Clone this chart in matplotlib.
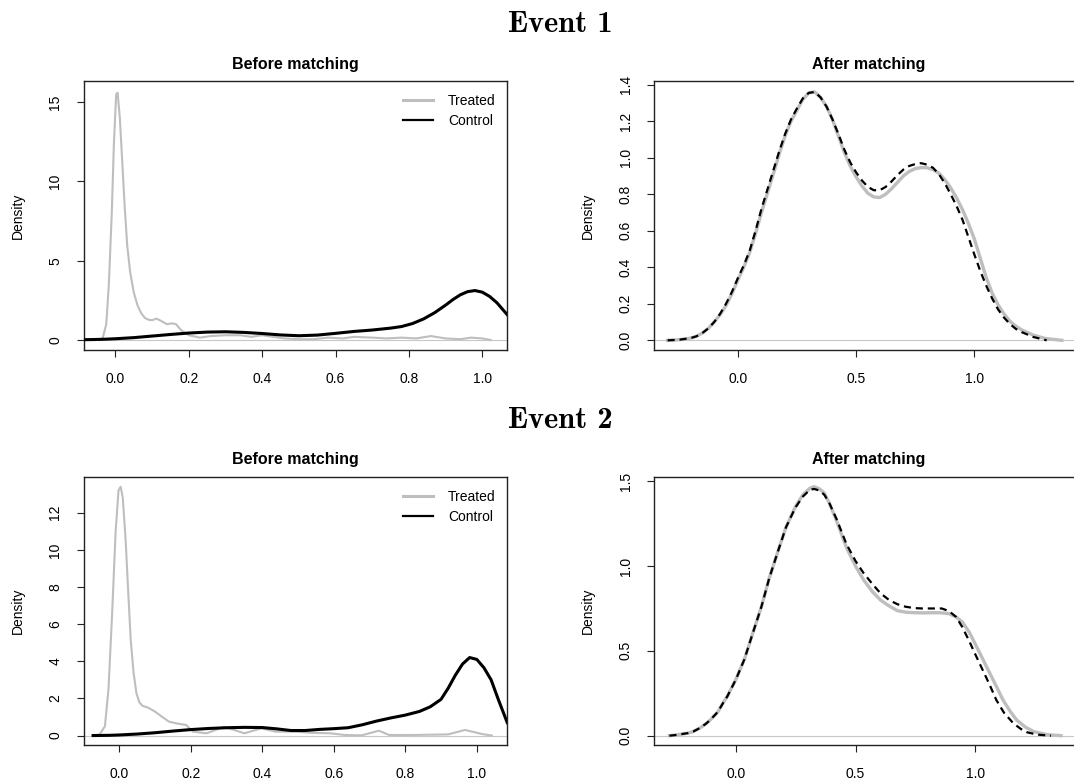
"""Densidades do escore de propensão antes e depois do pareamento."""

from pathlib import Path

import matplotlib

matplotlib.use("Agg")
import matplotlib.pyplot as plt
from matplotlib.font_manager import FontProperties
from matplotlib.lines import Line2D

plt.rcParams["font.family"] = ["Liberation Sans", "DejaVu Sans"]

GRAY = "#bebebe"

# ---- Event 1, before matching
e1_before_treated_x = [-0.043, -0.035, -0.025, -0.018, -0.010, -0.004, 0.002, 0.006, 0.012,
                       0.018, 0.025, 0.032, 0.040, 0.050, 0.060, 0.070, 0.080, 0.090,
                       0.100, 0.112, 0.125, 0.140, 0.155, 0.165, 0.180, 0.200, 0.230,
                       0.260, 0.300, 0.340, 0.370, 0.400, 0.430, 0.460, 0.500, 0.540,
                       0.580, 0.620, 0.650, 0.700, 0.740, 0.780, 0.820, 0.860, 0.900,
                       0.940, 0.970, 1.000, 1.023]
e1_before_treated_y = [0.0, 0.1, 1.0, 3.5, 8.0, 12.5, 15.5, 15.6, 14.0,
                       11.5, 8.5, 6.0, 4.3, 3.0, 2.2, 1.7, 1.4, 1.28,
                       1.25, 1.35, 1.2, 1.0, 1.05, 1.0, 0.6, 0.3, 0.15,
                       0.25, 0.3, 0.3, 0.2, 0.3, 0.2, 0.1, 0.05, 0.05,
                       0.15, 0.1, 0.2, 0.15, 0.1, 0.15, 0.1, 0.25, 0.1,
                       0.05, 0.15, 0.1, 0.0]
e1_before_control_x = [-0.086, -0.06, -0.03, 0.0, 0.05, 0.10, 0.15, 0.20, 0.25, 0.30,
                       0.35, 0.40, 0.45, 0.50, 0.55, 0.60, 0.65, 0.70, 0.75, 0.78,
                       0.81, 0.84, 0.87, 0.90, 0.92, 0.94, 0.96, 0.98, 1.00, 1.02,
                       1.04, 1.068]
e1_before_control_y = [0.02, 0.03, 0.05, 0.08, 0.15, 0.25, 0.35, 0.44, 0.50, 0.52,
                       0.48, 0.41, 0.32, 0.27, 0.31, 0.42, 0.54, 0.63, 0.75, 0.85,
                       1.04, 1.33, 1.72, 2.2, 2.55, 2.85, 3.05, 3.12, 3.02, 2.75,
                       2.35, 1.6]

# ---- Event 1, after matching
e1_after_treated_x = [-0.297, -0.25, -0.2, -0.175, -0.15, -0.125, -0.1, -0.075, -0.05,
                      -0.025, 0.0, 0.025, 0.05, 0.075, 0.1, 0.125, 0.15, 0.175, 0.2,
                      0.225, 0.25, 0.275, 0.3, 0.325, 0.35, 0.375, 0.4, 0.425, 0.45,
                      0.475, 0.5, 0.525, 0.55, 0.575, 0.6, 0.625, 0.65, 0.675, 0.7,
                      0.725, 0.75, 0.775, 0.8, 0.825, 0.85, 0.875, 0.9, 0.925, 0.95,
                      0.975, 1.0, 1.025, 1.05, 1.075, 1.1, 1.125, 1.15, 1.175, 1.2,
                      1.25, 1.3, 1.37]
e1_after_treated_y = [0.0, 0.003, 0.012, 0.022, 0.04, 0.065, 0.1, 0.14, 0.19,
                      0.255, 0.33, 0.40, 0.48, 0.585, 0.70, 0.805, 0.91, 1.02, 1.12,
                      1.20, 1.26, 1.32, 1.355, 1.36, 1.33, 1.28, 1.21, 1.12, 1.03,
                      0.955, 0.895, 0.845, 0.805, 0.785, 0.782, 0.80, 0.83, 0.865, 0.90,
                      0.925, 0.94, 0.946, 0.945, 0.935, 0.915, 0.88, 0.835, 0.78, 0.715,
                      0.64, 0.555, 0.45, 0.345, 0.26, 0.195, 0.145, 0.105, 0.078, 0.057,
                      0.028, 0.01, 0.0]
e1_after_control_x = [-0.297, -0.25, -0.2, -0.175, -0.15, -0.125, -0.1, -0.075, -0.05,
                      -0.025, 0.0, 0.025, 0.05, 0.075, 0.1, 0.125, 0.15, 0.175, 0.2,
                      0.225, 0.25, 0.275, 0.3, 0.325, 0.35, 0.375, 0.4, 0.425, 0.45,
                      0.475, 0.5, 0.525, 0.55, 0.575, 0.6, 0.625, 0.65, 0.675, 0.7,
                      0.725, 0.75, 0.775, 0.8, 0.825, 0.85, 0.875, 0.9, 0.925, 0.95,
                      0.975, 1.0, 1.025, 1.05, 1.075, 1.1, 1.125, 1.15, 1.175, 1.2,
                      1.25, 1.306]
e1_after_control_y = [0.0, 0.003, 0.012, 0.022, 0.04, 0.065, 0.1, 0.145, 0.2,
                      0.265, 0.34, 0.41, 0.49, 0.60, 0.72, 0.825, 0.93, 1.035, 1.13,
                      1.21, 1.27, 1.325, 1.355, 1.36, 1.33, 1.28, 1.21, 1.13, 1.045,
                      0.975, 0.92, 0.875, 0.84, 0.822, 0.822, 0.84, 0.87, 0.905, 0.935,
                      0.955, 0.965, 0.97, 0.962, 0.945, 0.91, 0.86, 0.80, 0.735, 0.66,
                      0.565, 0.47, 0.38, 0.30, 0.23, 0.17, 0.125, 0.09, 0.063, 0.045,
                      0.018, 0.0]

# ---- Event 2, before matching
e2_before_treated_x = [-0.073, -0.055, -0.040, -0.030, -0.020, -0.010, -0.002, 0.004, 0.010,
                       0.018, 0.025, 0.032, 0.040, 0.048, 0.056, 0.065, 0.081, 0.100,
                       0.119, 0.139, 0.158, 0.187, 0.206, 0.244, 0.293, 0.321, 0.350,
                       0.398, 0.437, 0.495, 0.533, 0.591, 0.630, 0.678, 0.726, 0.755,
                       0.822, 0.919, 0.967, 1.015, 1.042]
e2_before_treated_y = [0.0, 0.05, 0.5, 2.5, 6.5, 11.0, 13.2, 13.4, 12.8,
                       10.5, 7.8, 5.2, 3.4, 2.3, 1.8, 1.6, 1.5, 1.29,
                       1.02, 0.75, 0.66, 0.57, 0.21, 0.12, 0.47, 0.30, 0.12,
                       0.39, 0.21, 0.21, 0.15, 0.12, 0.03, 0.01, 0.26, 0.03,
                       0.03, 0.06, 0.3, 0.08, 0.0]
e2_before_control_x = [-0.073, -0.03, 0.0, 0.05, 0.1, 0.15, 0.2, 0.25, 0.3, 0.35,
                       0.4, 0.44, 0.48, 0.52, 0.56, 0.6, 0.64, 0.68, 0.72, 0.76,
                       0.8, 0.84, 0.87, 0.9, 0.92, 0.94, 0.96, 0.98, 1.0, 1.02,
                       1.04, 1.06, 1.085]
e2_before_control_y = [0.0, 0.01, 0.03, 0.08, 0.15, 0.24, 0.32, 0.38, 0.42, 0.44,
                       0.43, 0.36, 0.27, 0.27, 0.33, 0.37, 0.42, 0.58, 0.78, 0.95,
                       1.1, 1.3, 1.55, 1.95, 2.55, 3.25, 3.85, 4.2, 4.1, 3.65,
                       3.0, 1.95, 0.7]

# ---- Event 2, after matching
e2_after_treated_x = [-0.277, -0.25, -0.2, -0.178, -0.15, -0.125, -0.107, -0.075, -0.05,
                      -0.036, 0.0, 0.036, 0.07, 0.107, 0.14, 0.178, 0.21, 0.249, 0.28,
                      0.31, 0.327, 0.35, 0.37, 0.391, 0.42, 0.462, 0.5, 0.533, 0.57,
                      0.604, 0.64, 0.675, 0.71, 0.747, 0.78, 0.818, 0.85, 0.889, 0.92,
                      0.946, 0.975, 1.0, 1.03, 1.06, 1.09, 1.116, 1.145, 1.173, 1.21,
                      1.244, 1.3, 1.358]
e2_after_treated_y = [0.0, 0.004, 0.015, 0.024, 0.045, 0.07, 0.092, 0.14, 0.2,
                      0.23, 0.33, 0.45, 0.6, 0.76, 0.93, 1.095, 1.23, 1.35, 1.42,
                      1.46, 1.468, 1.455, 1.43, 1.37, 1.27, 1.11, 1.0, 0.92, 0.85,
                      0.8, 0.765, 0.737, 0.728, 0.725, 0.724, 0.725, 0.725, 0.72, 0.7,
                      0.67, 0.61, 0.54, 0.455, 0.37, 0.285, 0.21, 0.145, 0.092, 0.05,
                      0.024, 0.006, 0.0]
e2_after_control_x = [-0.277, -0.25, -0.2, -0.178, -0.15, -0.125, -0.107, -0.075, -0.05,
                      -0.036, 0.0, 0.036, 0.07, 0.107, 0.14, 0.178, 0.21, 0.249, 0.28,
                      0.31, 0.327, 0.35, 0.37, 0.391, 0.42, 0.462, 0.5, 0.533, 0.57,
                      0.604, 0.64, 0.675, 0.71, 0.747, 0.78, 0.82, 0.86, 0.89, 0.92,
                      0.946, 0.974, 1.0, 1.03, 1.06, 1.088, 1.12, 1.159, 1.19, 1.216,
                      1.26, 1.316]
e2_after_control_y = [0.0, 0.004, 0.015, 0.024, 0.045, 0.07, 0.092, 0.14, 0.2,
                      0.23, 0.33, 0.45, 0.6, 0.76, 0.93, 1.095, 1.23, 1.345, 1.41,
                      1.45, 1.455, 1.445, 1.42, 1.37, 1.28, 1.13, 1.03, 0.96, 0.895,
                      0.84, 0.8, 0.775, 0.76, 0.752, 0.75, 0.75, 0.75, 0.735, 0.7,
                      0.64, 0.56, 0.48, 0.39, 0.3, 0.21, 0.135, 0.073, 0.04, 0.02,
                      0.006, 0.0]

before_xticks = [0.0, 0.2, 0.4, 0.6, 0.8, 1.0]
after_xticks = [0.0, 0.5, 1.0]
e1_before_yticks = [0, 5, 10, 15]
e1_after_yticks = [0.0, 0.2, 0.4, 0.6, 0.8, 1.0, 1.2, 1.4]
e2_before_yticks = [0, 2, 4, 6, 8, 10, 12]
e2_after_yticks = [0.0, 0.5, 1.0, 1.5]
legend_labels = ["Treated", "Control"]
event_titles = ["Event 1", "Event 2"]

W, H = 1074, 783
CMB = Path(matplotlib.get_data_path()) / "fonts" / "ttf" / "cmb10.ttf"


def _axes_px(fig, x0, y0, x1, y1):
    """Cria eixos a partir de uma caixa em pixels (origem no topo)."""
    return fig.add_axes([x0 / W, 1 - y1 / H, (x1 - x0) / W, (y1 - y0) / H])


def _style(ax, xlim, ylim, xticks, yticks, fmt_x, fmt_y, title, width_px):
    ax.set_xlim(*xlim)
    ax.set_ylim(*ylim)
    ax.axhline(0, color="#c8c8c8", lw=0.8, zorder=1)
    ax.set_xticks(xticks)
    ax.set_xticklabels([fmt_x.format(v) for v in xticks])
    ax.set_yticks(yticks)
    ax.set_yticklabels([fmt_y.format(v) for v in yticks], rotation=90, va="center")
    ax.tick_params(axis="both", direction="out", length=5, width=0.8,
                   color="#222222", labelsize=10)
    ax.tick_params(axis="x", pad=11)
    ax.tick_params(axis="y", pad=10.5)
    for sp in ax.spines.values():
        sp.set_color("#222222")
        sp.set_linewidth(1.0)
    ax.set_title(title, fontsize=11.5, fontweight="bold", pad=9)
    ax.set_ylabel("Density", fontsize=10)
    ax.yaxis.set_label_coords(-59 / width_px, 0.5)


def _legend(ax):
    handles = [Line2D([], [], color=GRAY, lw=2.2),
               Line2D([], [], color="black", lw=1.6)]
    ax.legend(handles, legend_labels, loc="upper left",
              bbox_to_anchor=(0.753, 0.951), frameon=False, fontsize=10,
              borderpad=0, borderaxespad=0, handlelength=2.15,
              handletextpad=1.1, labelspacing=0.42)


fig = plt.figure(figsize=(W / 100, H / 100), dpi=100)

# Event 1
ax = _axes_px(fig, 84, 81, 507.2, 350)
ax.plot(e1_before_treated_x, e1_before_treated_y, color=GRAY, lw=1.5, zorder=2)
ax.plot(e1_before_control_x, e1_before_control_y, color="black", lw=2.2, zorder=3)
_style(ax, (-0.0857, 1.068), (-0.63, 16.34), before_xticks, e1_before_yticks,
       "{:.1f}", "{:d}", "Before matching", 423.2)
_legend(ax)

ax = _axes_px(fig, 654.1, 81, 1090, 350)
ax.plot(e1_after_treated_x, e1_after_treated_y, color=GRAY, lw=2.4, zorder=2)
ax.plot(e1_after_control_x, e1_after_control_y, color="black", lw=1.6,
        dashes=(3.2, 2.2), zorder=3)
_style(ax, (-0.354, 1.489), (-0.053, 1.42), after_xticks, e1_after_yticks,
       "{:.1f}", "{:.1f}", "After matching", 435.9)
ax.title.set_x((869 - 654.1) / (1090 - 654.1))

# Event 2
ax = _axes_px(fig, 84, 476.7, 507.2, 745)
ax.plot(e2_before_treated_x, e2_before_treated_y, color=GRAY, lw=1.5, zorder=2)
ax.plot(e2_before_control_x, e2_before_control_y, color="black", lw=2.2, zorder=3)
_style(ax, (-0.0985, 1.085), (-0.51, 13.94), before_xticks, e2_before_yticks,
       "{:.1f}", "{:d}", "Before matching", 423.2)
_legend(ax)

ax = _axes_px(fig, 654.1, 476.7, 1090, 745)
ax.plot(e2_after_treated_x, e2_after_treated_y, color=GRAY, lw=2.4, zorder=2)
ax.plot(e2_after_control_x, e2_after_control_y, color="black", lw=1.6,
        dashes=(3.2, 2.2), zorder=3)
_style(ax, (-0.341, 1.479), (-0.055, 1.527), after_xticks, e2_after_yticks,
       "{:.1f}", "{:.1f}", "After matching", 435.9)
ax.title.set_x((869 - 654.1) / (1090 - 654.1))

# títulos de evento em Computer Modern negrito
cmb = FontProperties(fname=str(CMB), size=22)
for title, base_px in zip(event_titles, [32.5, 428.5]):
    fig.text(560 / W, 1 - base_px / H, title, fontproperties=cmb,
             ha="center", va="baseline")

fig.savefig("out.png", dpi=100)
plt.close(fig)
